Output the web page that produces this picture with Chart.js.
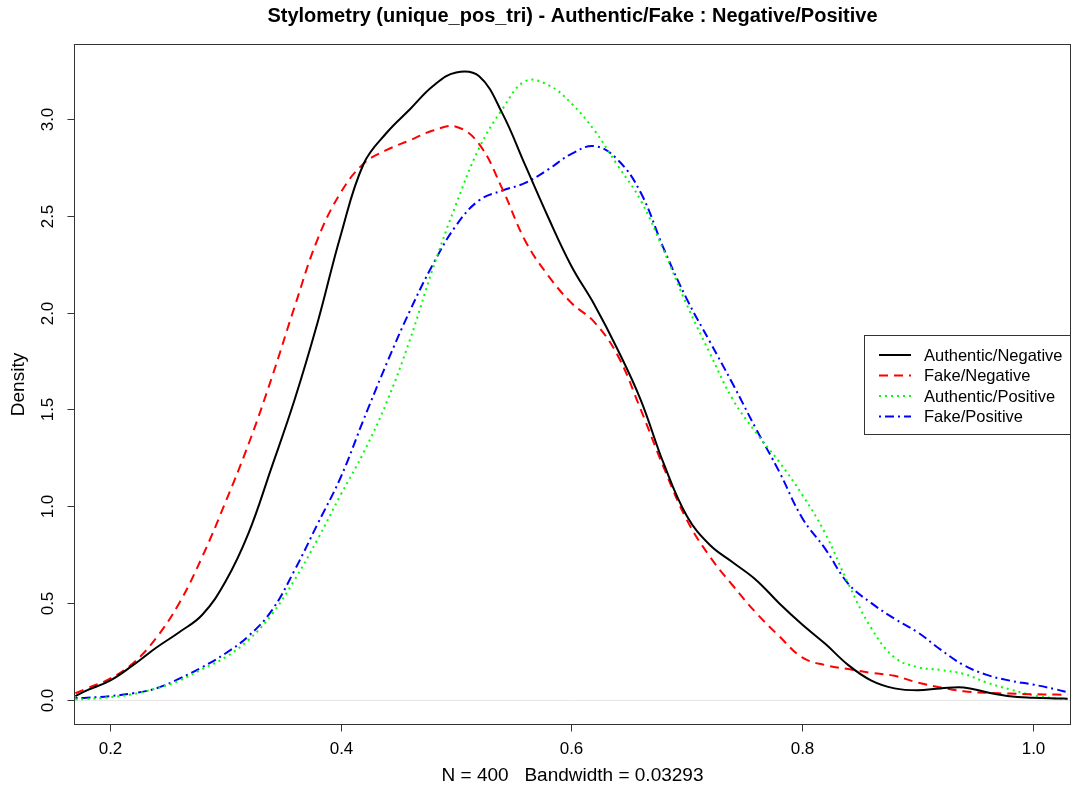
<!DOCTYPE html>
<html>
<head>
<meta charset="utf-8">
<script src="https://cdn.jsdelivr.net/npm/chart.js@4/dist/chart.umd.min.js"></script>
<style>
  html, body { margin: 0; padding: 0; background: #ffffff; }
  #wrap { width: 1073px; height: 794px; position: relative; }
</style>
</head>
<body>
<div id="wrap"><canvas id="c"></canvas></div>
<script>
// ---- Data ----
const xs = [0.17,0.18,0.20,0.22,0.24,0.26,0.28,0.30,0.32,0.34,0.36,0.38,0.40,0.42,0.44,0.46,0.48,0.50,0.52,0.54,0.56,0.58,0.60,0.62,0.64,0.66,0.68,0.70,0.72,0.74,0.76,0.78,0.80,0.82,0.84,0.86,0.88,0.90,0.92,0.94,0.96,0.98,1.00,1.02,1.03];
const authenticNegative = [0.02,0.05,0.10,0.18,0.27,0.35,0.44,0.61,0.86,1.20,1.55,1.95,2.40,2.77,2.93,3.05,3.17,3.24,3.22,3.03,2.76,2.49,2.24,2.04,1.81,1.55,1.22,0.95,0.80,0.71,0.62,0.50,0.39,0.29,0.18,0.10,0.06,0.05,0.06,0.065,0.04,0.02,0.012,0.008,0.007];
const fakeNegative = [0.035,0.06,0.11,0.19,0.32,0.50,0.74,1.02,1.32,1.66,2.03,2.38,2.62,2.77,2.84,2.89,2.94,2.96,2.87,2.64,2.37,2.19,2.05,1.95,1.78,1.50,1.20,0.93,0.74,0.59,0.45,0.33,0.22,0.18,0.16,0.14,0.125,0.09,0.065,0.045,0.037,0.033,0.030,0.028,0.027];
const authenticPositive = [0.003,0.005,0.015,0.03,0.06,0.10,0.16,0.22,0.31,0.44,0.62,0.83,1.06,1.28,1.54,1.86,2.23,2.56,2.85,3.05,3.195,3.175,3.08,2.94,2.76,2.58,2.32,2.04,1.79,1.55,1.38,1.23,1.06,0.86,0.60,0.37,0.22,0.17,0.155,0.135,0.09,0.055,0.025,0.008,0.005];
const fakePositive = [0.01,0.012,0.02,0.035,0.06,0.11,0.17,0.24,0.33,0.46,0.67,0.91,1.15,1.45,1.74,2.01,2.25,2.45,2.58,2.63,2.67,2.74,2.82,2.86,2.79,2.62,2.33,2.07,1.85,1.63,1.40,1.18,0.94,0.78,0.60,0.50,0.42,0.35,0.26,0.18,0.13,0.10,0.08,0.055,0.04];
const seriesNames = ["Authentic/Negative","Fake/Negative","Authentic/Positive","Fake/Positive"];
const xTicks = [0.2,0.4,0.6,0.8,1.0];
const xTickLabels = ["0.2","0.4","0.6","0.8","1.0"];
const yTicks = [0.0,0.5,1.0,1.5,2.0,2.5,3.0];
const yTickLabels = ["0.0","0.5","1.0","1.5","2.0","2.5","3.0"];
const titleText = "Stylometry (unique_pos_tri) - Authentic/Fake : Negative/Positive";
const xLabel = "N = 400   Bandwidth = 0.03293";
const yLabel = "Density";

// ---- Styles ----
const FONT = '"Liberation Sans", Arial, Helvetica, sans-serif';
const styles = [
  { color: '#000000', dash: [] },
  { color: '#ff0000', dash: [9, 6] },
  { color: '#00ff00', dash: [2, 4] },
  { color: '#0000ff', dash: [2, 4, 9, 4] }
];
const seriesData = [authenticNegative, fakeNegative, authenticPositive, fakePositive];

const datasets = seriesData.map((arr, i) => ({
  label: seriesNames[i],
  data: xs.map((x, j) => ({ x: x, y: arr[j] })),
  borderColor: styles[i].color,
  borderDash: styles[i].dash,
  borderWidth: 2,
  pointRadius: 0,
  fill: false,
  tension: 0.4
}));

const rPlot = {
  id: 'rPlot',
  beforeDatasetsDraw(chart) {
    const ctx = chart.ctx, a = chart.chartArea, ys = chart.scales.y;
    const y0 = Math.round(ys.getPixelForValue(0)) + 0.5;
    ctx.save();
    ctx.strokeStyle = '#e6e6e6';
    ctx.lineWidth = 1;
    ctx.beginPath(); ctx.moveTo(a.left, y0); ctx.lineTo(a.right, y0); ctx.stroke();
    ctx.restore();
  },
  afterDraw(chart) {
    const ctx = chart.ctx, a = chart.chartArea;
    const xsc = chart.scales.x, ysc = chart.scales.y;
    ctx.save();
    ctx.strokeStyle = '#333333';
    ctx.lineWidth = 1;
    // box
    ctx.strokeRect(a.left + 0.5, a.top + 0.5, a.right - a.left - 1, a.bottom - a.top - 1);
    // x axis
    ctx.fillStyle = '#000';
    ctx.font = '17px ' + FONT;
    ctx.textAlign = 'center';
    ctx.textBaseline = 'middle';
    const by = a.bottom - 0.5;
    const xFirst = Math.round(xsc.getPixelForValue(xTicks[0])) + 0.5;
    const xLast = Math.round(xsc.getPixelForValue(xTicks[xTicks.length - 1])) + 0.5;
    ctx.beginPath(); ctx.moveTo(xFirst, by); ctx.lineTo(xLast, by); ctx.stroke();
    xTicks.forEach((v, i) => {
      const px = Math.round(xsc.getPixelForValue(v)) + 0.5;
      ctx.beginPath(); ctx.moveTo(px, by); ctx.lineTo(px, by + 7); ctx.stroke();
      ctx.fillText(xTickLabels[i], px, a.bottom + 24);
    });
    // y axis
    const lx = a.left + 0.5;
    const yFirst = Math.round(ysc.getPixelForValue(yTicks[0])) + 0.5;
    const yLast = Math.round(ysc.getPixelForValue(yTicks[yTicks.length - 1])) + 0.5;
    ctx.beginPath(); ctx.moveTo(lx, yFirst); ctx.lineTo(lx, yLast); ctx.stroke();
    yTicks.forEach((v, i) => {
      const py = Math.round(ysc.getPixelForValue(v)) + 0.5;
      ctx.beginPath(); ctx.moveTo(lx, py); ctx.lineTo(lx - 7, py); ctx.stroke();
      ctx.save();
      ctx.translate(a.left - 26, py);
      ctx.rotate(-Math.PI / 2);
      ctx.fillText(yTickLabels[i], 0, 0);
      ctx.restore();
    });
    // axis titles
    ctx.font = '19px ' + FONT;
    ctx.fillText(xLabel, (a.left + a.right) / 2, a.bottom + 51);
    ctx.save();
    ctx.translate(19, (a.top + a.bottom) / 2);
    ctx.rotate(-Math.PI / 2);
    ctx.fillText(yLabel, 0, 0);
    ctx.restore();
    // main title
    ctx.font = 'bold 20px ' + FONT;
    ctx.fillText(titleText, (a.left + a.right) / 2, 16);
    // legend
    const lgL = 864, lgT = 335, lgR = a.right, lgB = 435;
    ctx.fillStyle = '#fff';
    ctx.fillRect(lgL, lgT, lgR - lgL, lgB - lgT);
    ctx.strokeStyle = '#333333';
    ctx.lineWidth = 1;
    ctx.strokeRect(lgL + 0.5, lgT + 0.5, lgR - lgL - 1, lgB - lgT - 1);
    ctx.font = '16.5px ' + FONT;
    ctx.textAlign = 'left';
    chart.data.datasets.forEach((ds, i) => {
      const ry = 355 + i * 20.5;
      ctx.save();
      ctx.strokeStyle = ds.borderColor;
      ctx.lineWidth = 2;
      ctx.setLineDash(ds.borderDash || []);
      ctx.beginPath(); ctx.moveTo(879, ry); ctx.lineTo(911, ry); ctx.stroke();
      ctx.restore();
      ctx.fillStyle = '#000';
      ctx.fillText(ds.label, 924, ry + 1);
    });
    ctx.restore();
  }
};

new Chart(document.getElementById('c'), {
  type: 'line',
  data: { datasets: datasets },
  options: {
    responsive: true,
    maintainAspectRatio: false,
    animation: false,
    layout: { padding: { left: 74, right: 2, top: 44, bottom: 69 } },
    scales: {
      x: { type: 'linear', min: 0.1688, max: 1.033, display: false },
      y: { type: 'linear', min: -0.129, max: 3.387, display: false }
    },
    plugins: {
      legend: { display: false },
      title: { display: false },
      tooltip: { enabled: false }
    }
  },
  plugins: [rPlot]
});
</script>
</body>
</html>
